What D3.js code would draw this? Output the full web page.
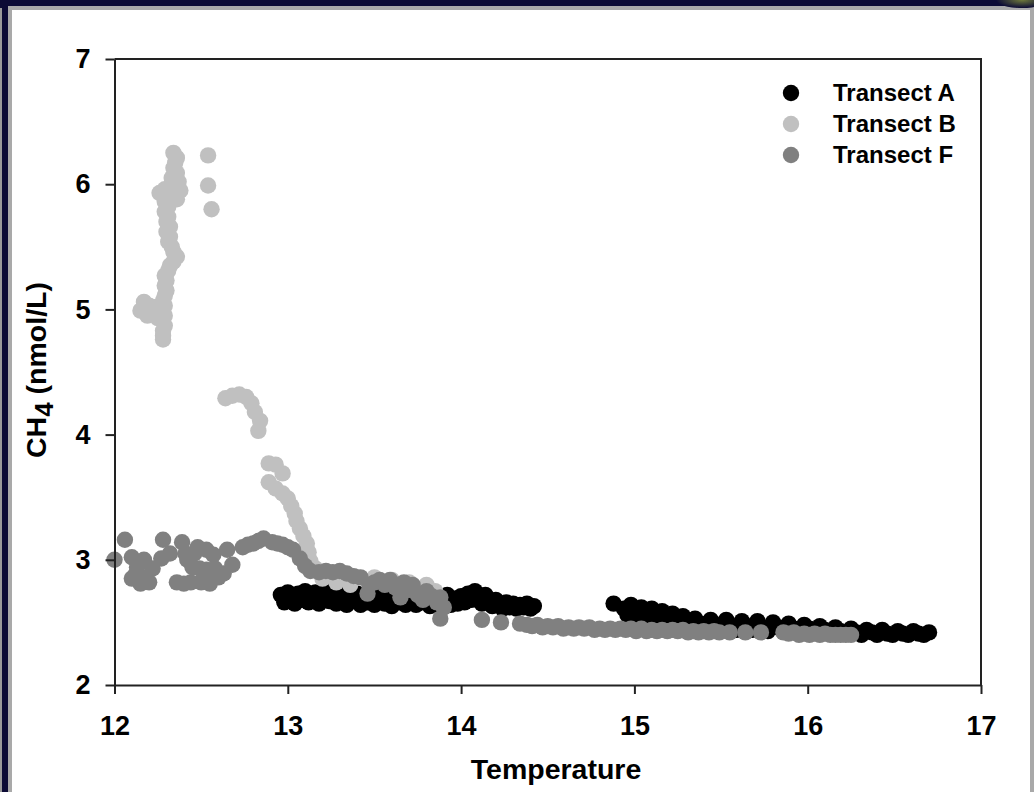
<!DOCTYPE html>
<html>
<head>
<meta charset="utf-8">
<script src="https://cdn.jsdelivr.net/npm/d3@7"></script>
<style>
  html, body { margin: 0; padding: 0; background: #0c0b35; }
  svg { display: block; }
  text { font-family: "Liberation Sans", Arial, sans-serif; font-weight: bold; fill: #000; }
</style>
</head>
<body>
<svg id="chart" width="1034" height="792"></svg>
<script>
// Temperature (°C) vs dissolved CH4 (nmol/L) along three transects
const transectA = [
  [12.96,2.72],[12.98,2.66],[13.00,2.74],[13.02,2.69],[13.04,2.65],[13.06,2.73],[13.08,2.68],[13.10,2.75],
  [13.12,2.66],[13.14,2.71],[13.16,2.74],[13.18,2.65],[13.20,2.70],[13.22,2.75],[13.24,2.67],[13.26,2.72],
  [13.28,2.65],[13.30,2.74],[13.32,2.68],[13.34,2.64],[13.36,2.72],[13.38,2.67],[13.40,2.73],[13.42,2.64],
  [13.44,2.70],[13.46,2.66],[13.48,2.72],[13.50,2.64],[13.52,2.69],[13.54,2.73],[13.56,2.65],[13.58,2.70],
  [13.60,2.63],[13.62,2.71],[13.64,2.66],[13.66,2.72],[13.68,2.64],[13.70,2.69],[13.72,2.73],[13.74,2.64],
  [13.76,2.70],[13.78,2.66],[13.80,2.72],[13.82,2.63],[13.84,2.68],[13.86,2.71],[13.88,2.63],[13.90,2.68],
  [13.92,2.72],[13.94,2.64],[13.96,2.69],[13.98,2.65],[14.00,2.71],[14.02,2.66],[14.04,2.73],[14.06,2.68],
  [14.08,2.75],[14.10,2.70],[14.12,2.65],[14.14,2.72],[14.16,2.67],[14.18,2.63],[14.20,2.68],[14.22,2.64],
  [14.24,2.61],[14.26,2.66],[14.28,2.62],[14.30,2.65],[14.32,2.61],[14.34,2.64],[14.36,2.62],[14.38,2.65],
  [14.40,2.61],[14.42,2.63],
  [14.88,2.65],[14.94,2.61],[14.96,2.56],[14.98,2.64],[15.00,2.59],[15.02,2.55],[15.04,2.62],[15.06,2.58],
  [15.08,2.54],[15.10,2.61],[15.12,2.56],[15.14,2.52],[15.16,2.59],[15.18,2.55],[15.20,2.51],[15.22,2.57],
  [15.24,2.53],[15.26,2.50],[15.28,2.55],[15.30,2.51],[15.32,2.48],[15.35,2.53],[15.38,2.49],[15.41,2.46],
  [15.44,2.52],[15.47,2.48],[15.50,2.45],[15.53,2.52],[15.56,2.47],[15.59,2.44],[15.62,2.51],[15.65,2.47],
  [15.68,2.44],[15.71,2.51],[15.74,2.46],[15.77,2.43],[15.80,2.50],[15.83,2.46],[15.86,2.43],[15.89,2.49],
  [15.92,2.45],[15.95,2.42],[15.98,2.48],[16.01,2.45],[16.04,2.42],[16.07,2.47],[16.10,2.44],[16.13,2.42],
  [16.16,2.46],[16.19,2.43],[16.22,2.41],[16.25,2.45],[16.28,2.42],[16.31,2.40],[16.34,2.44],[16.37,2.42],
  [16.40,2.40],[16.43,2.44],[16.46,2.41],[16.49,2.40],[16.52,2.43],[16.55,2.41],[16.58,2.40],[16.61,2.43],
  [16.64,2.41],[16.67,2.40],[16.70,2.42]
];

const transectB = [
  [12.34,6.25],[12.36,6.21],[12.35,6.17],[12.34,6.13],[12.36,6.09],[12.33,6.05],[12.37,6.02],[12.32,5.98],
  [12.38,5.95],[12.29,5.96],[12.26,5.93],[12.33,5.90],[12.36,5.88],[12.29,5.86],[12.31,5.82],[12.29,5.78],
  [12.31,5.74],[12.30,5.70],[12.32,5.66],[12.30,5.62],[12.32,5.58],[12.31,5.54],[12.33,5.50],[12.34,5.46],
  [12.36,5.42],[12.34,5.38],[12.32,5.35],[12.31,5.31],[12.29,5.27],[12.30,5.23],[12.29,5.19],[12.30,5.15],
  [12.29,5.11],[12.28,5.07],[12.29,5.03],[12.28,4.99],[12.29,4.95],[12.28,4.91],[12.29,4.87],[12.28,4.83],
  [12.28,4.79],[12.28,4.76],
  [12.15,4.99],[12.17,5.06],[12.20,5.03],[12.22,4.97],[12.25,4.93],[12.19,4.95],[12.24,5.02],
  [12.54,6.23],[12.54,5.99],[12.56,5.80],
  [12.64,4.29],[12.68,4.31],[12.72,4.32],[12.76,4.30],[12.79,4.25],[12.81,4.18],[12.84,4.11],[12.83,4.03],
  [12.89,3.77],[12.93,3.76],[12.97,3.69],[12.89,3.62],[12.93,3.57],[12.97,3.53],[13.00,3.49],[13.02,3.43],
  [13.04,3.37],[13.05,3.31],[13.07,3.25],[13.09,3.19],[13.11,3.13],[13.12,3.06],[13.13,2.99],
  [13.16,2.93],[13.20,2.85],[13.24,2.90],[13.28,2.82],[13.32,2.88],[13.36,2.80],[13.40,2.86],
  [13.50,2.86],[13.60,2.84],[13.70,2.82],[13.80,2.80],[13.85,2.75]
];

const transectF = [
  [12.00,3.00],[12.06,3.16],[12.10,3.02],[12.13,2.94],[12.10,2.85],[12.15,2.81],[12.17,3.00],[12.20,2.82],
  [12.22,2.93],[12.12,2.88],[12.18,2.86],[12.14,2.97],[12.28,3.16],[12.27,3.01],[12.32,3.05],[12.39,3.14],
  [12.41,3.05],[12.42,3.00],[12.46,3.05],[12.45,2.94],[12.36,2.82],[12.40,2.81],[12.44,2.82],[12.48,3.10],
  [12.50,2.82],[12.49,2.93],[12.53,3.08],[12.53,2.92],[12.55,2.81],[12.57,3.04],[12.58,2.93],[12.60,2.86],
  [12.63,2.89],[12.68,2.96],[12.65,3.08],[12.74,3.10],[12.77,3.12],[12.80,3.13],[12.83,3.15],[12.86,3.17],
  [12.91,3.14],[12.94,3.13],[12.97,3.12],[13.00,3.10],[13.03,3.08],[13.07,3.01],
  [13.10,2.95],[13.13,2.91],[13.18,2.90],[13.22,2.91],[13.26,2.90],[13.30,2.91],[13.34,2.89],[13.38,2.87],
  [13.42,2.86],[13.46,2.73],[13.47,2.80],[13.50,2.82],[13.53,2.84],[13.56,2.80],[13.59,2.84],[13.62,2.78],
  [13.65,2.70],[13.67,2.82],[13.70,2.76],[13.72,2.80],[13.75,2.72],[13.78,2.68],[13.80,2.75],[13.83,2.71],
  [13.86,2.66],[13.88,2.70],[13.90,2.62],[13.88,2.53],[14.12,2.52],[14.23,2.50],[14.34,2.49],
  [14.38,2.48],[14.41,2.47],[14.44,2.48],[14.47,2.46],[14.50,2.47],[14.53,2.46],[14.56,2.47],[14.59,2.45],
  [14.62,2.46],[14.65,2.45],[14.68,2.46],[14.71,2.45],[14.74,2.46],[14.77,2.44],[14.80,2.45],[14.83,2.44],
  [14.86,2.45],[14.89,2.44],[14.92,2.45],[14.95,2.44],[14.98,2.45],[15.01,2.43],[15.04,2.45],[15.07,2.43],
  [15.10,2.44],[15.13,2.43],[15.16,2.44],[15.19,2.43],[15.22,2.44],[15.25,2.43],[15.28,2.44],[15.31,2.42],
  [15.34,2.43],[15.37,2.42],[15.40,2.43],[15.43,2.42],[15.46,2.43],[15.49,2.42],
  [15.55,2.42],[15.64,2.42],[15.73,2.42],
  [15.86,2.42],[15.89,2.41],[15.92,2.42],[15.95,2.40],[15.98,2.41],[16.01,2.40],[16.04,2.41],[16.07,2.40],
  [16.10,2.41],[16.13,2.40],[16.16,2.40],[16.19,2.40],[16.22,2.40],[16.25,2.40]
];

const seriesNames = ["Transect A", "Transect B", "Transect F"];
const seriesColors = ["#000000", "#c0c0c0", "#808080"];
const xTicks = [12, 13, 14, 15, 16, 17];
const yTicks = [2, 3, 4, 5, 6, 7];

const series = [transectA, transectB, transectF].map((data, i) => ({
  name: seriesNames[i], color: seriesColors[i], data
}));

const svg = d3.select("#chart");

// slide frame: dark navy surround, grey bevel, white panel
svg.append("rect").attr("width", 1034).attr("height", 792).attr("fill", "#0c0b35");
svg.append("rect").attr("x", 0).attr("y", 8).attr("width", 2).attr("height", 784).attr("fill", "#9a9a9a");
svg.append("rect").attr("x", 8).attr("y", 6).attr("width", 1026).attr("height", 786).attr("fill", "#a9a9a9");
svg.append("rect").attr("x", 12).attr("y", 10).attr("width", 1018).attr("height", 782).attr("fill", "#ffffff");
const g0 = svg.append("defs").append("radialGradient").attr("id", "corner");
g0.append("stop").attr("offset", "0%").attr("stop-color", "#6f7a3a");
g0.append("stop").attr("offset", "100%").attr("stop-color", "#0c0b35");
svg.append("ellipse").attr("cx", 1022).attr("cy", 0).attr("rx", 26).attr("ry", 8).attr("fill", "url(#corner)");

const x = d3.scaleLinear().domain([12, 17]).range([114.5, 981]);
const y = d3.scaleLinear().domain([2, 7]).range([685, 59]);

// plot box (top and right edges)
svg.append("path")
  .attr("d", `M${x(12)},${y(7)}H${x(17)}V${y(2)}`)
  .attr("fill", "none").attr("stroke", "#222").attr("stroke-width", 2);

// points
series.forEach(s => {
  svg.append("g").selectAll("circle").data(s.data).join("circle")
    .attr("cx", d => x(d[0])).attr("cy", d => y(d[1])).attr("r", 8.2)
    .attr("fill", s.color);
});

// axes
const xAxis = svg.append("g").attr("transform", `translate(0,${y(2)})`)
  .call(d3.axisBottom(x).tickValues(xTicks).tickSize(9).tickSizeOuter(0).tickFormat(d3.format("d")));
const yAxis = svg.append("g").attr("transform", `translate(${x(12)},0)`)
  .call(d3.axisLeft(y).tickValues(yTicks).tickSize(9).tickSizeOuter(0).tickFormat(d3.format("d")));
[xAxis, yAxis].forEach(a => {
  a.select(".domain").attr("stroke", "#222").attr("stroke-width", 2);
  a.selectAll(".tick line").attr("stroke", "#222").attr("stroke-width", 2);
  a.selectAll(".tick text").attr("font-size", 27).attr("font-family", null).attr("fill", "#000");
});
xAxis.selectAll(".tick text").attr("dy", null).attr("y", 50);
yAxis.selectAll(".tick text").attr("x", -24);

// axis titles
svg.append("text").attr("x", 556).attr("y", 779).attr("text-anchor", "middle")
  .attr("font-size", 28.5).text("Temperature");
const yt = svg.append("text").attr("transform", "translate(46,370) rotate(-90)")
  .attr("text-anchor", "middle").attr("font-size", 28.5);
yt.append("tspan").text("CH");
yt.append("tspan").attr("dy", 7).attr("font-size", 26).text("4");
yt.append("tspan").attr("dy", -7).text(" (nmol/L)");

// legend
const legend = svg.append("g");
series.forEach((s, i) => {
  const cy = 93 + i * 31;
  legend.append("circle").attr("cx", 791).attr("cy", cy).attr("r", 8.2).attr("fill", s.color);
  legend.append("text").attr("x", 833).attr("y", cy + 8).attr("font-size", 24).text(s.name);
});
</script>
</body>
</html>
